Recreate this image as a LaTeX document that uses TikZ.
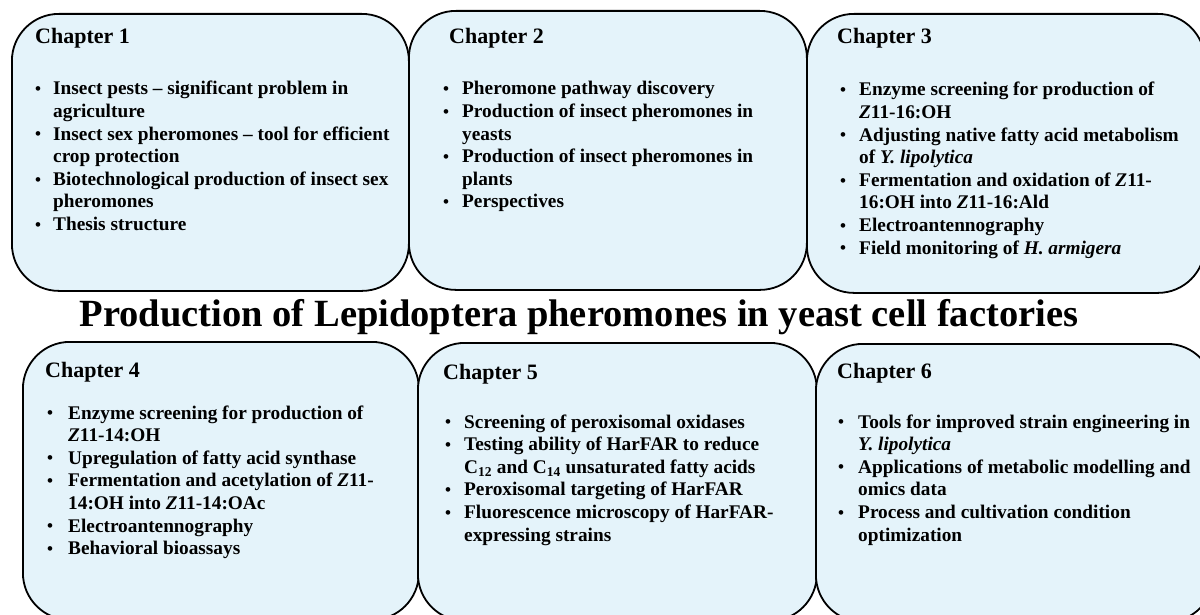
\documentclass[tikz,border=0pt]{standalone}
\usepackage{fontspec}
\setmainfont{Liberation Serif}
\definecolor{boxfill}{RGB}{228,243,250}
\newcommand{\blist}[2]{\begin{tabular}[t]{@{}p{#1}@{}l@{}}#2\end{tabular}}
\newcommand{\bul}{\raisebox{0.02em}{\fontsize{17}{17}\selectfont •}}
\tikzset{
  chapbox/.style={draw=black, line width=1.8pt, fill=boxfill, rounded corners=47pt,
    anchor=north west, inner sep=0pt},
  chaphead/.style={anchor=base west, inner sep=0pt, font=\fontsize{22}{26}\selectfont\bfseries},
  chapbody/.style={anchor=base west, inner sep=0pt, font=\fontsize{19.3}{22.6}\selectfont\bfseries},
  titletext/.style={anchor=base, inner sep=0pt, font=\fontsize{38.5}{44}\selectfont\bfseries}
}
\begin{document}
\begin{tikzpicture}[x=1pt,y=-1pt]
\path[use as bounding box] (0,0) rectangle (1200,615);
\clip (0,0) rectangle (1200,615);
\fill[white] (0,0) rectangle (1200,615);
% boxes
\node[chapbox, minimum width=397pt, minimum height=277pt] (b1) at (11,13) {};
\node[chapbox, minimum width=398pt, minimum height=279pt] (b2) at (408,10) {};
\node[chapbox, minimum width=398pt, minimum height=279pt] (b3) at (806,13) {};
\node[chapbox, minimum width=396pt, minimum height=278pt] (b4) at (22,341) {};
\node[chapbox, minimum width=399pt, minimum height=278pt] (b5) at (417,342) {};
\node[chapbox, minimum width=398pt, minimum height=278pt] (b6) at (815,343) {};
% title
\node[titletext] (title) at (579,326) {Production of Lepidoptera pheromones in yeast cell factories};
% chapter 1
\node[chaphead] (h1) at (35,44) {Chapter 1};
\node[chapbody] (t1) at (35,95) {\blist{18pt}{%
\bul & Insect pests – significant problem in\\
  & agriculture\\
\bul & Insect sex pheromones – tool for efficient\\
  & crop protection\\
\bul & Biotechnological production of insect sex\\
  & pheromones\\
\bul & Thesis structure}};
% chapter 2
\node[chaphead] (h2) at (449,44) {Chapter 2};
\node[chapbody] (t2) at (443,95) {\blist{19pt}{%
\bul & Pheromone pathway discovery\\
\bul & Production of insect pheromones in\\
  & yeasts\\
\bul & Production of insect pheromones in\\
  & plants\\
\bul & Perspectives}};
% chapter 3
\node[chaphead] (h3) at (837,44) {Chapter 3};
\node[chapbody] (t3) at (840,96) {\blist{19pt}{%
\bul & Enzyme screening for production of\\
  & \textit{Z}11-16:OH\\
\bul & Adjusting native fatty acid metabolism\\
  & of \textit{Y. lipolytica}\\
\bul & Fermentation and oxidation of \textit{Z}11-\\
  & 16:OH into \textit{Z}11-16:Ald\\
\bul & Electroantennography\\
\bul & Field monitoring of \textit{H. armigera}}};
% chapter 4
\node[chaphead] (h4) at (45,377) {Chapter 4};
\node[chapbody] (t4) at (47,419) {\blist{21pt}{%
\bul & Enzyme screening for production of\\
  & \textit{Z}11-14:OH\\
\bul & Upregulation of fatty acid synthase\\
\bul & Fermentation and acetylation of \textit{Z}11-\\
  & 14:OH into \textit{Z}11-14:OAc\\
\bul & Electroantennography\\
\bul & Behavioral bioassays}};
% chapter 5
\node[chaphead] (h5) at (443,379) {Chapter 5};
\node[chapbody] (t5) at (445,428) {\blist{19pt}{%
\bul & Screening of peroxisomal oxidases\\
\bul & Testing ability of HarFAR to reduce\\
  & C\textsubscript{12} and C\textsubscript{14} unsaturated fatty acids\\
\bul & Peroxisomal targeting of HarFAR\\
\bul & Fluorescence microscopy of HarFAR-\\
  & expressing strains}};
% chapter 6
\node[chaphead] (h6) at (837,378) {Chapter 6};
\node[chapbody] (t6) at (838,428) {\blist{20pt}{%
\bul & Tools for improved strain engineering in\\
  & \textit{Y. lipolytica}\\
\bul & Applications of metabolic modelling and\\
  & omics data\\
\bul & Process and cultivation condition\\
  & optimization}};
\end{tikzpicture}
\end{document}
